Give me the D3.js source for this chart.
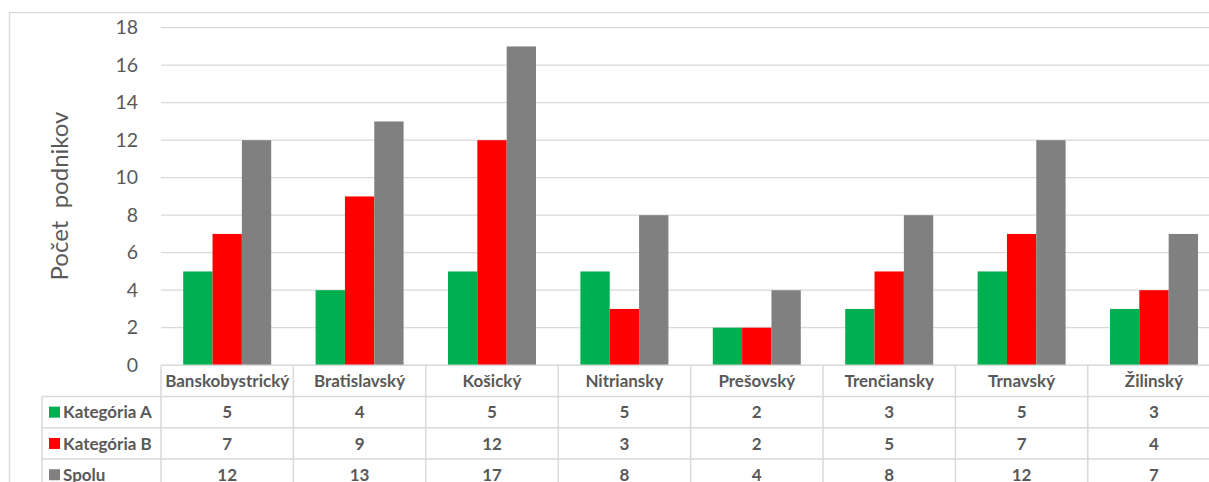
<!DOCTYPE html>
<html>
<head>
<meta charset="utf-8">
<script src="https://cdnjs.cloudflare.com/ajax/libs/d3/7.8.5/d3.min.js"></script>
<style>
  body { margin: 0; background: #fff; }
  svg { display: block; }
</style>
</head>
<body>
<svg id="chart" width="1209" height="482"></svg>
<script>
// data
var categories = ['Banskobystrický', 'Bratislavský', 'Košický', 'Nitriansky', 'Prešovský', 'Trenčiansky', 'Trnavský', 'Žilinský'];
var katA = [5, 4, 5, 5, 2, 3, 5, 3];
var katB = [7, 9, 12, 3, 2, 5, 7, 4];
var spolu = [12, 13, 17, 8, 4, 8, 12, 7];
var seriesNames = ['Kategória A', 'Kategória B', 'Spolu'];
var seriesColors = ['#00B050', '#FF0000', '#808080'];
var yTicks = [0, 2, 4, 6, 8, 10, 12, 14, 16, 18];
var yTitle = 'Počet  podnikov';

var font = 'Lato, Calibri, sans-serif';
var gridColor = '#D9D9D9';
var textColor = '#595959';

var svg = d3.select('#chart');

var plotLeft = 161, colW = 132.4;
var plotRight = plotLeft + colW * categories.length;
var yTop = 27.7, yBottom = 365.2;
var rowH = 31.3;

var x = d3.scaleBand().domain(categories).range([plotLeft, plotRight]).padding(0);
var x1 = d3.scaleBand().domain(seriesNames).range([22.2, colW - 22.2]).padding(0);
var y = d3.scaleLinear().domain([0, 18]).range([yBottom, yTop]);

var allSeries = [katA, katB, spolu];

// outer frame
svg.append('path')
    .attr('d', 'M9.5,' + 482 + 'V12.7H1209')
    .attr('fill', 'none')
    .attr('stroke', gridColor)
    .attr('stroke-width', 1.3);

// gridlines
svg.append('g').selectAll('line')
    .data(yTicks.filter(function(t) { return t > 0; }))
    .enter().append('line')
    .attr('x1', plotLeft).attr('x2', plotRight)
    .attr('y1', function(d) { return y(d); })
    .attr('y2', function(d) { return y(d); })
    .attr('stroke', gridColor)
    .attr('stroke-width', 1.3);

// y axis labels
var yAxis = d3.axisLeft(y).tickValues(yTicks).tickSize(0).tickPadding(0);
var yg = svg.append('g').attr('transform', 'translate(138,0)').call(yAxis);
yg.select('.domain').remove();
yg.selectAll('text')
    .attr('font-family', font)
    .attr('font-size', '19.5px')
    .attr('fill', textColor);

// y title
svg.append('text')
    .attr('transform', 'translate(68,196) rotate(-90)')
    .attr('text-anchor', 'middle')
    .attr('font-family', font)
    .attr('font-size', '24px')
    .attr('fill', textColor)
    .style('white-space', 'pre')
    .text(yTitle);

// bars
var groups = svg.append('g').selectAll('g')
    .data(categories)
    .enter().append('g')
    .attr('transform', function(d) { return 'translate(' + x(d) + ',0)'; });

groups.selectAll('rect')
    .data(function(d, i) {
        return allSeries.map(function(s, j) { return { name: seriesNames[j], value: s[i], color: seriesColors[j] }; });
    })
    .enter().append('rect')
    .attr('x', function(d) { return x1(d.name); })
    .attr('width', x1.bandwidth())
    .attr('y', function(d) { return y(d.value); })
    .attr('height', function(d) { return y(0) - y(d.value); })
    .attr('fill', function(d) { return d.color; });

// data table
var table = svg.append('g');
var rowTop = function(r) { return yBottom + r * rowH; };
var bottom = 490;
var tableFont = '17px';

// horizontal lines
table.append('line')
    .attr('x1', plotLeft).attr('x2', plotRight)
    .attr('y1', rowTop(0)).attr('y2', rowTop(0))
    .attr('stroke', gridColor).attr('stroke-width', 1.5);
for (var r = 1; r <= 3; r++) {
    table.append('line')
        .attr('x1', 42).attr('x2', plotRight)
        .attr('y1', rowTop(r)).attr('y2', rowTop(r))
        .attr('stroke', gridColor).attr('stroke-width', 1.5);
}
// vertical lines
table.append('line')
    .attr('x1', 42).attr('x2', 42)
    .attr('y1', rowTop(1)).attr('y2', bottom)
    .attr('stroke', gridColor).attr('stroke-width', 1.5);
table.selectAll('.vline')
    .data(categories)
    .enter().append('line')
    .attr('class', 'vline')
    .attr('x1', function(d) { return x(d); })
    .attr('x2', function(d) { return x(d); })
    .attr('y1', rowTop(0)).attr('y2', bottom)
    .attr('stroke', gridColor).attr('stroke-width', 1.5);

// header row: category names
table.selectAll('.cat')
    .data(categories)
    .enter().append('text')
    .attr('class', 'cat')
    .attr('x', function(d) { return x(d) + colW / 2; })
    .attr('y', rowTop(0) + rowH / 2)
    .attr('dy', '0.36em')
    .attr('text-anchor', 'middle')
    .attr('font-family', font)
    .attr('font-weight', 'bold')
    .attr('font-size', tableFont)
    .attr('fill', textColor)
    .text(function(d) { return d; });

// series rows
allSeries.forEach(function(s, j) {
    var cy = rowTop(j + 1) + rowH / 2;
    table.append('rect')
        .attr('x', 49).attr('y', cy - 5.5)
        .attr('width', 11).attr('height', 11)
        .attr('fill', seriesColors[j]);
    table.append('text')
        .attr('x', 63).attr('y', cy)
        .attr('dy', '0.36em')
        .attr('font-family', font)
        .attr('font-weight', 'bold')
        .attr('font-size', tableFont)
        .attr('fill', textColor)
        .text(seriesNames[j]);
    table.selectAll('.v' + j)
        .data(s)
        .enter().append('text')
        .attr('class', 'v' + j)
        .attr('x', function(d, i) { return x(categories[i]) + colW / 2; })
        .attr('y', cy)
        .attr('dy', '0.36em')
        .attr('text-anchor', 'middle')
        .attr('font-family', font)
        .attr('font-weight', 'bold')
        .attr('font-size', tableFont)
        .attr('fill', textColor)
        .text(function(d) { return d; });
});
</script>
</body>
</html>
